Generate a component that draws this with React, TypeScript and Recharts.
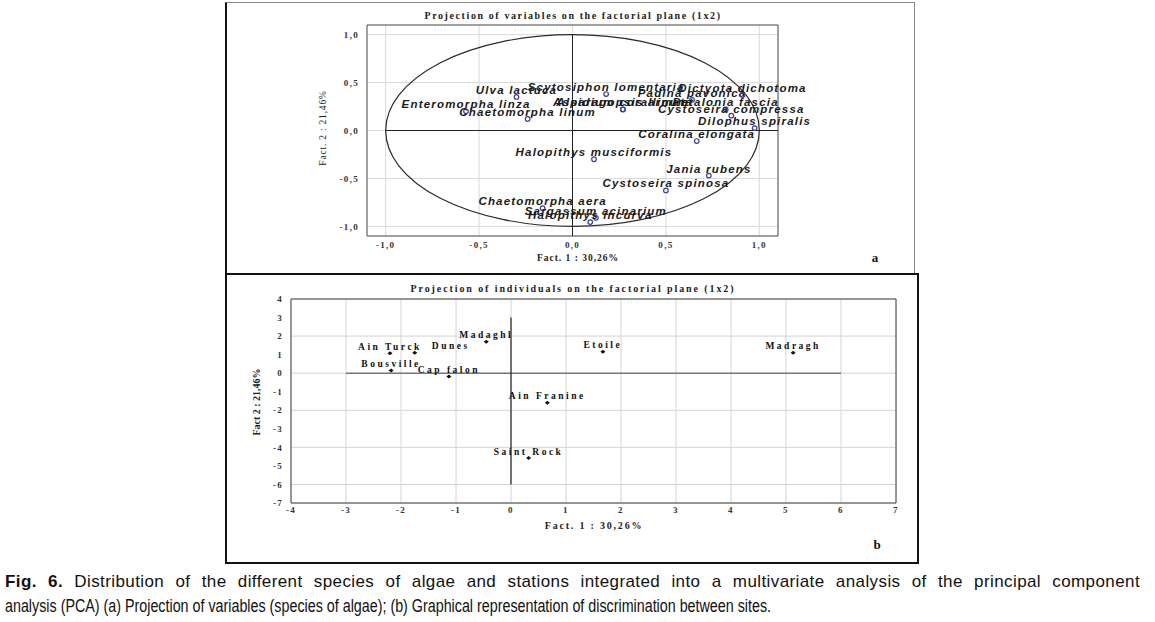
import React from 'react';
import {
  ScatterChart,
  Scatter,
  XAxis,
  YAxis,
  CartesianGrid,
  ReferenceLine,
  ReferenceArea,
} from 'recharts';

// (a) species of algae on factors 1 and 2
const speciesNames = [
  'Ulva lactuca',
  'Enteromorpha linza',
  'Chaetomorpha linum',
  'Scytosiphon lomentaria',
  'Asparagopsis armata',
  'Alsidium corallinum',
  'Padina pavonica',
  'Dictyota dichotoma',
  'Petalonia fascia',
  'Cystoseira compressa',
  'Dilophus spiralis',
  'Coralina elongata',
  'Halopithys musciformis',
  'Jania rubens',
  'Cystoseira spinosa',
  'Chaetomorpha aera',
  'Sargassum acinarium',
  'Halopithys incurva',
];
const speciesFact1 = [-0.3, -0.57, -0.24, 0.18, 0.27, 0.27, 0.64, 0.91, 0.82, 0.85, 0.975, 0.665, 0.115, 0.73, 0.5, -0.16, 0.125, 0.095];
const speciesFact2 = [0.35, 0.2, 0.12, 0.38, 0.22, 0.22, 0.32, 0.37, 0.22, 0.155, 0.025, -0.11, -0.3, -0.47, -0.625, -0.81, -0.91, -0.955];
const varTicks = [-1, -0.5, 0, 0.5, 1];

// (b) sampling sites on factors 1 and 2
const siteNames = ['Ain Turck', 'Dunes', 'Madaghl', 'Etoile', 'Madragh', 'Bousville', 'Cap falon', 'Ain Franine', 'Saint Rock'];
const siteFact1 = [-2.2, -1.75, -0.45, 1.67, 5.13, -2.18, -1.13, 0.66, 0.32];
const siteFact2 = [1.08, 1.1, 1.7, 1.16, 1.1, 0.15, -0.18, -1.6, -4.58];
const siteXTicks = [-4, -3, -2, -1, 0, 1, 2, 3, 4, 5, 6, 7];
const siteYTicks = [-7, -6, -5, -4, -3, -2, -1, 0, 1, 2, 3, 4];

const speciesData = speciesNames.map((name, i) => ({ name, x: speciesFact1[i], y: speciesFact2[i] }));
const siteData = siteNames.map((name, i) => ({ name, x: siteFact1[i], y: siteFact2[i] }));

const serif = "'Liberation Serif', 'Times New Roman', serif";
const sans = "'Liberation Sans', Arial, sans-serif";

const commaFmt = (v: number) => v.toFixed(1).replace('.', ',');

// label shift for the one site whose name sits beside the point
const siteLabelDx: Record<string, number> = { Dunes: 36 };

const SpeciesPoint = (props: any) => {
  const { cx, cy, payload } = props;
  return (
    <g>
      <text
        x={cx}
        y={cy - 3}
        textAnchor="middle"
        fontFamily={sans}
        fontSize={11.5}
        fontWeight="bold"
        fontStyle="italic"
        letterSpacing={1.2}
        fill="#1a1a1a"
      >
        {payload.name}
      </text>
      <circle cx={cx} cy={cy} r={2.3} fill="#fff" fillOpacity={0} stroke="#3b3ba6" strokeWidth={1.2} />
    </g>
  );
};

const SitePoint = (props: any) => {
  const { cx, cy, payload } = props;
  const dx = siteLabelDx[payload.name] || 0;
  return (
    <g>
      <text
        x={cx + dx}
        y={cy - 3.5}
        textAnchor="middle"
        fontFamily={serif}
        fontSize={9.5}
        fontWeight="bold"
        letterSpacing={2.5}
        fill="#111"
      >
        {payload.name}
      </text>
      <path d={`M${cx - 2.5},${cy} L${cx},${cy - 2} L${cx + 2.5},${cy} L${cx},${cy + 2} Z`} fill="#111" />
    </g>
  );
};

const UnitCircle = (props: any) => {
  const { x, y, width, height } = props;
  const w = Math.abs(width);
  const h = Math.abs(height);
  const left = Math.min(x, x + width);
  const top = Math.min(y, y + height);
  return (
    <ellipse cx={left + w / 2} cy={top + h / 2} rx={w / 2} ry={h / 2} fill="none" stroke="#2a2a2a" strokeWidth={1.2} />
  );
};

const tickStyle = { fontFamily: serif, fontSize: 9, fontWeight: 'bold', fill: '#333', letterSpacing: 1.3 } as any;

const captionFont = "'Liberation Sans', Arial, sans-serif";

export default function App() {
  return (
    <div style={{ position: 'absolute', left: 0, top: 0, width: 1155, height: 622, background: '#fff', overflow: 'hidden' }}>
      {/* panel frames */}
      <div style={{ position: 'absolute', left: 225, top: 2, width: 690, height: 271, borderTop: '1px solid #888', borderRight: '1px solid #888', borderLeft: '2px solid #111', boxSizing: 'border-box' }} />
      <div style={{ position: 'absolute', left: 225, top: 273, width: 694, height: 291, border: '2px solid #111', boxSizing: 'border-box' }} />

      {/* (a) projection of variables */}
      <div style={{ position: 'absolute', left: 0, top: 0 }}>
        <ScatterChart width={1155} height={280} margin={{ top: 25, right: 377, bottom: 14, left: 327 }}>
          <CartesianGrid stroke="#dadada" strokeWidth={1} />
          <XAxis
            type="number"
            dataKey="x"
            domain={[-1.1, 1.1]}
            ticks={varTicks}
            tickFormatter={commaFmt}
            axisLine={false}
            tickLine={false}
            tickSize={4}
            tick={tickStyle}
            height={30}
          />
          <YAxis
            type="number"
            dataKey="y"
            domain={[-1.1, 1.1]}
            ticks={varTicks}
            tickFormatter={commaFmt}
            axisLine={false}
            tickLine={false}
            tick={tickStyle}
            width={40}
          />
          <ReferenceArea x1={-1.1} x2={1.1} y1={-1.1} y2={1.1} fill="none" stroke="#555" strokeWidth={1} />
          <ReferenceArea x1={-1} x2={1} y1={-1} y2={1} shape={UnitCircle} />
          <ReferenceLine segment={[{ x: -1, y: 0 }, { x: 1.1, y: 0 }]} stroke="#222" strokeWidth={1} />
          <ReferenceLine segment={[{ x: 0, y: 1 }, { x: 0, y: -1.1 }]} stroke="#222" strokeWidth={1} />
          <Scatter data={speciesData} shape={SpeciesPoint} isAnimationActive={false} />
        </ScatterChart>
      </div>

      {/* (b) projection of individuals */}
      <div style={{ position: 'absolute', left: 0, top: 280 }}>
        <ScatterChart width={1155} height={290} margin={{ top: 19, right: 259, bottom: 42, left: 261 }}>
          <CartesianGrid stroke="#d4d4d4" strokeWidth={1} />
          <XAxis
            type="number"
            dataKey="x"
            domain={[-4, 7]}
            ticks={siteXTicks}
            axisLine={false}
            tickLine={false}
            tickSize={2}
            tick={tickStyle}
            height={25}
          />
          <YAxis
            type="number"
            dataKey="y"
            domain={[-7, 4]}
            ticks={siteYTicks}
            axisLine={false}
            tickLine={false}
            tick={tickStyle}
            width={30}
          />
          <ReferenceArea x1={-4} x2={7} y1={-7} y2={4} fill="none" stroke="#444" strokeWidth={1} />
          <ReferenceLine segment={[{ x: -3, y: 0 }, { x: 6, y: 0 }]} stroke="#444" strokeWidth={1} />
          <ReferenceLine segment={[{ x: 0, y: 3 }, { x: 0, y: -6 }]} stroke="#222" strokeWidth={1.2} />
          <Scatter data={siteData} shape={SitePoint} isAnimationActive={false} />
        </ScatterChart>
      </div>

      {/* titles and axis names */}
      <svg width={1155} height={622} style={{ position: 'absolute', left: 0, top: 0, pointerEvents: 'none' }}>
        <text x={573} y={19} textAnchor="middle" fontFamily={serif} fontSize={10} fontWeight="bold" letterSpacing={1.6} fill="#222">
          Projection of variables on the factorial plane (1x2)
        </text>
        <text x={578} y={261} textAnchor="middle" fontFamily={serif} fontSize={9.5} fontWeight="bold" letterSpacing={1} fill="#222">
          Fact. 1  : 30,26%
        </text>
        <text x={324} y={128} transform="rotate(-90 324 128)" textAnchor="middle" dominantBaseline="middle" fontFamily={serif} fontSize={9.5} letterSpacing={0.8} fill="#222">
          Fact. 2 : 21,46%
        </text>
        <text x={875} y={262} textAnchor="middle" fontFamily={serif} fontSize={13} fontWeight="bold" fill="#111">a</text>

        <text x={573} y={292} textAnchor="middle" fontFamily={serif} fontSize={10} fontWeight="bold" letterSpacing={1.9} fill="#222">
          Projection of individuals on the factorial plane (1x2)
        </text>
        <text x={594} y={529} textAnchor="middle" fontFamily={serif} fontSize={10} fontWeight="bold" letterSpacing={1.8} fill="#222">
          Fact. 1 : 30,26%
        </text>
        <text x={258} y={402} transform="rotate(-90 258 402)" textAnchor="middle" dominantBaseline="middle" fontFamily={serif} fontSize={10} fontWeight="bold" fill="#222">
          Fact 2 : 21,46%
        </text>
        <text x={877} y={549} textAnchor="middle" fontFamily={serif} fontSize={13} fontWeight="bold" fill="#111">b</text>
      </svg>

      {/* caption: first line justified to full width, second line condensed */}
      <div
        style={{
          position: 'absolute',
          left: 5,
          top: 569,
          width: 1135,
          fontFamily: captionFont,
          fontSize: 17,
          color: '#111',
          lineHeight: '25px',
          textAlign: 'justify',
          textAlignLast: 'justify',
          whiteSpace: 'nowrap',
          letterSpacing: 0.4,
        }}
      >
        <b>Fig. 6.</b> Distribution of the different species of algae and stations integrated into a multivariate analysis of the principal component
      </div>
      <div
        style={{
          position: 'absolute',
          left: 5,
          top: 594,
          width: 1389,
          transform: 'scaleX(0.817)',
          transformOrigin: 'left top',
          fontFamily: captionFont,
          fontSize: 17.5,
          color: '#111',
          lineHeight: '25px',
          whiteSpace: 'nowrap',
        }}
      >
        analysis (PCA) (a) Projection of variables (species of algae); (b) Graphical representation of discrimination between sites.
      </div>
    </div>
  );
}
